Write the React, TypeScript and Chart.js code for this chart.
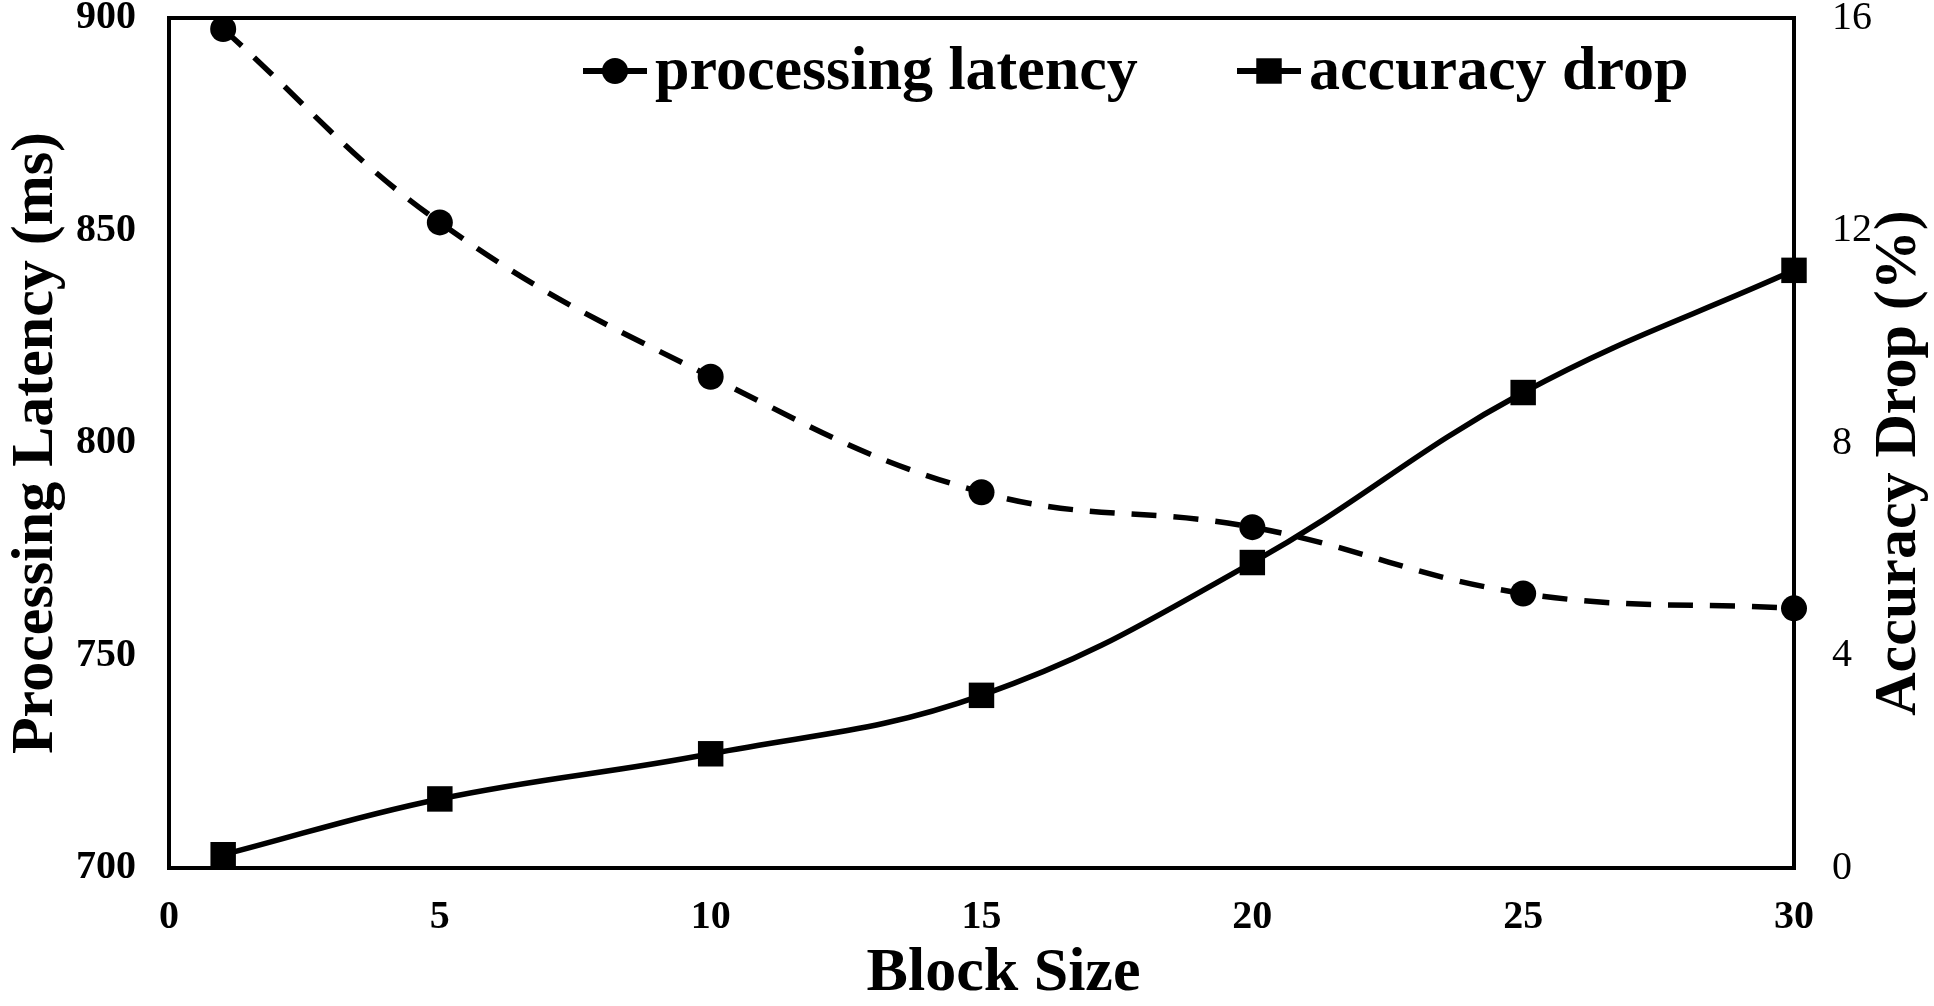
import React, { useEffect, useRef } from "react";
import { Chart, registerables } from "chart.js";

Chart.register(...registerables);

const blockSizes = [1, 5, 10, 15, 20, 25, 30];
const latencyMs = [897.4, 851.9, 815.6, 788.4, 780.2, 764.6, 761.1];
const accuracyDropPct = [0.25, 1.3, 2.15, 3.25, 5.75, 8.95, 11.25];
const seriesLabels = ["processing latency", "accuracy drop"];
const axisTitles = { x: "Block Size", y: "Processing Latency (ms)", y1: "Accuracy Drop (%)" };

const FONT = "'Liberation Serif', 'Times New Roman', serif";

const frameAndLegend = {
  id: "frameAndLegend",
  afterDatasetsDraw(chart: any) {
    const { ctx, chartArea } = chart;
    ctx.save();
    ctx.strokeStyle = "#000";
    ctx.lineWidth = 4;
    ctx.strokeRect(chartArea.left, chartArea.top, chartArea.right - chartArea.left, chartArea.bottom - chartArea.top);
    // legend
    const items = chart.data.datasets;
    const starts = [chartArea.left + 414, chartArea.left + 1068];
    const y = chartArea.top + 53;
    ctx.font = `bold 62px ${FONT}`;
    ctx.textBaseline = "middle";
    ctx.textAlign = "left";
    ctx.fillStyle = "#000";
    items.forEach((ds: any, i: number) => {
      const x0 = starts[i];
      ctx.beginPath();
      ctx.lineWidth = 6;
      ctx.setLineDash([]);
      ctx.moveTo(x0, y);
      ctx.lineTo(x0 + 64, y);
      ctx.stroke();
      const cx = x0 + 32;
      ctx.beginPath();
      if (ds.pointStyle === "rect") {
        const s = ds.pointRadius * Math.SQRT1_2;
        ctx.fillRect(cx - s, y - s, 2 * s, 2 * s);
      } else {
        ctx.arc(cx, y, ds.pointRadius, 0, Math.PI * 2);
        ctx.fill();
      }
      ctx.fillText(ds.label, x0 + 72, y + 2);
    });
    ctx.restore();
  },
  afterDraw(chart: any) {
    const { ctx, chartArea, width, height } = chart;
    ctx.save();
    ctx.fillStyle = "#000";
    ctx.textAlign = "center";
    ctx.textBaseline = "middle";
    // right axis title, reading bottom to top
    ctx.font = `bold 60px ${FONT}`;
    ctx.translate(width - 35, (chartArea.top + chartArea.bottom) / 2 + 20);
    ctx.rotate(-Math.PI / 2);
    ctx.fillText(axisTitles.y1, 0, 0);
    ctx.restore();
    ctx.save();
    ctx.fillStyle = "#000";
    ctx.textAlign = "center";
    ctx.textBaseline = "middle";
    ctx.font = `bold 62px ${FONT}`;
    ctx.fillText(axisTitles.x, (chartArea.left + chartArea.right) / 2 + 22, height - 32);
    ctx.restore();
  },
};

export default function App() {
  const ref = useRef<HTMLCanvasElement | null>(null);
  useEffect(() => {
    document.body.style.margin = "0";
    if (!ref.current) return;
    const tickFontBold = { family: FONT, size: 40, weight: "bold" as const };
    const tickFontNormal = { family: FONT, size: 40, weight: "normal" as const };
    const titleFont = { family: FONT, size: 60, weight: "bold" as const, lineHeight: 1.0 };
    const zeroPad = (s: any) => {
      s.paddingTop = 0;
      s.paddingBottom = 0;
      s.paddingLeft = 0;
      s.paddingRight = 0;
    };
    const chart = new Chart(ref.current, {
      type: "line",
      data: {
        datasets: [
          {
            label: seriesLabels[0],
            data: blockSizes.map((x, i) => ({ x, y: latencyMs[i] })),
            yAxisID: "y",
            borderColor: "#000",
            backgroundColor: "#000",
            borderWidth: 5.5,
            borderDash: [25, 17],
            pointStyle: "circle",
            pointRadius: 13,
            pointBackgroundColor: "#000",
            pointBorderWidth: 0,
            tension: 0.4,
            clip: false as any,
          },
          {
            label: seriesLabels[1],
            data: blockSizes.map((x, i) => ({ x, y: accuracyDropPct[i] })),
            yAxisID: "y1",
            borderColor: "#000",
            backgroundColor: "#000",
            borderWidth: 5.5,
            pointStyle: "rect",
            pointRadius: 18,
            pointBackgroundColor: "#000",
            pointBorderWidth: 0,
            tension: 0.4,
            clip: false as any,
          },
        ],
      },
      options: {
        animation: false,
        responsive: false,
        devicePixelRatio: 1,
        layout: { padding: { top: 17, left: 0, right: 0, bottom: 0 } },
        plugins: { legend: { display: false }, tooltip: { enabled: false } },
        scales: {
          x: {
            type: "linear",
            min: 0,
            max: 30,
            ticks: { stepSize: 5, font: tickFontBold, color: "#000", padding: 26 },
            grid: { display: false, drawTicks: false },
            border: { display: true, color: "#000", width: 4 },
            title: { display: false, text: axisTitles.x },
            afterFit: (s: any) => { s.height = 138; zeroPad(s); },
          },
          y: {
            type: "linear",
            position: "left",
            min: 700,
            max: 900,
            ticks: { stepSize: 50, font: tickFontBold, color: "#000", padding: 33 },
            grid: { display: false, drawTicks: false },
            border: { display: true, color: "#000", width: 4 },
            title: { display: true, text: axisTitles.y, font: titleFont, color: "#000", padding: { top: 6, bottom: 0 } },
            afterFit: (s: any) => { s.width = 169; zeroPad(s); },
          },
          y1: {
            type: "linear",
            position: "right",
            min: 0,
            max: 16,
            ticks: { stepSize: 4, font: tickFontNormal, color: "#000", padding: 38 },
            grid: { display: false, drawTicks: false },
            border: { display: true, color: "#000", width: 4 },
            title: { display: false, text: axisTitles.y1 },
            afterFit: (s: any) => { s.width = 140; zeroPad(s); },
          },
        },
      } as any,
      plugins: [frameAndLegend],
    });
    return () => chart.destroy();
  }, []);
  return (
    <div style={{ width: 1934, height: 1006, background: "#fff" }}>
      <canvas ref={ref} width={1934} height={1006} style={{ display: "block" }} />
    </div>
  );
}
